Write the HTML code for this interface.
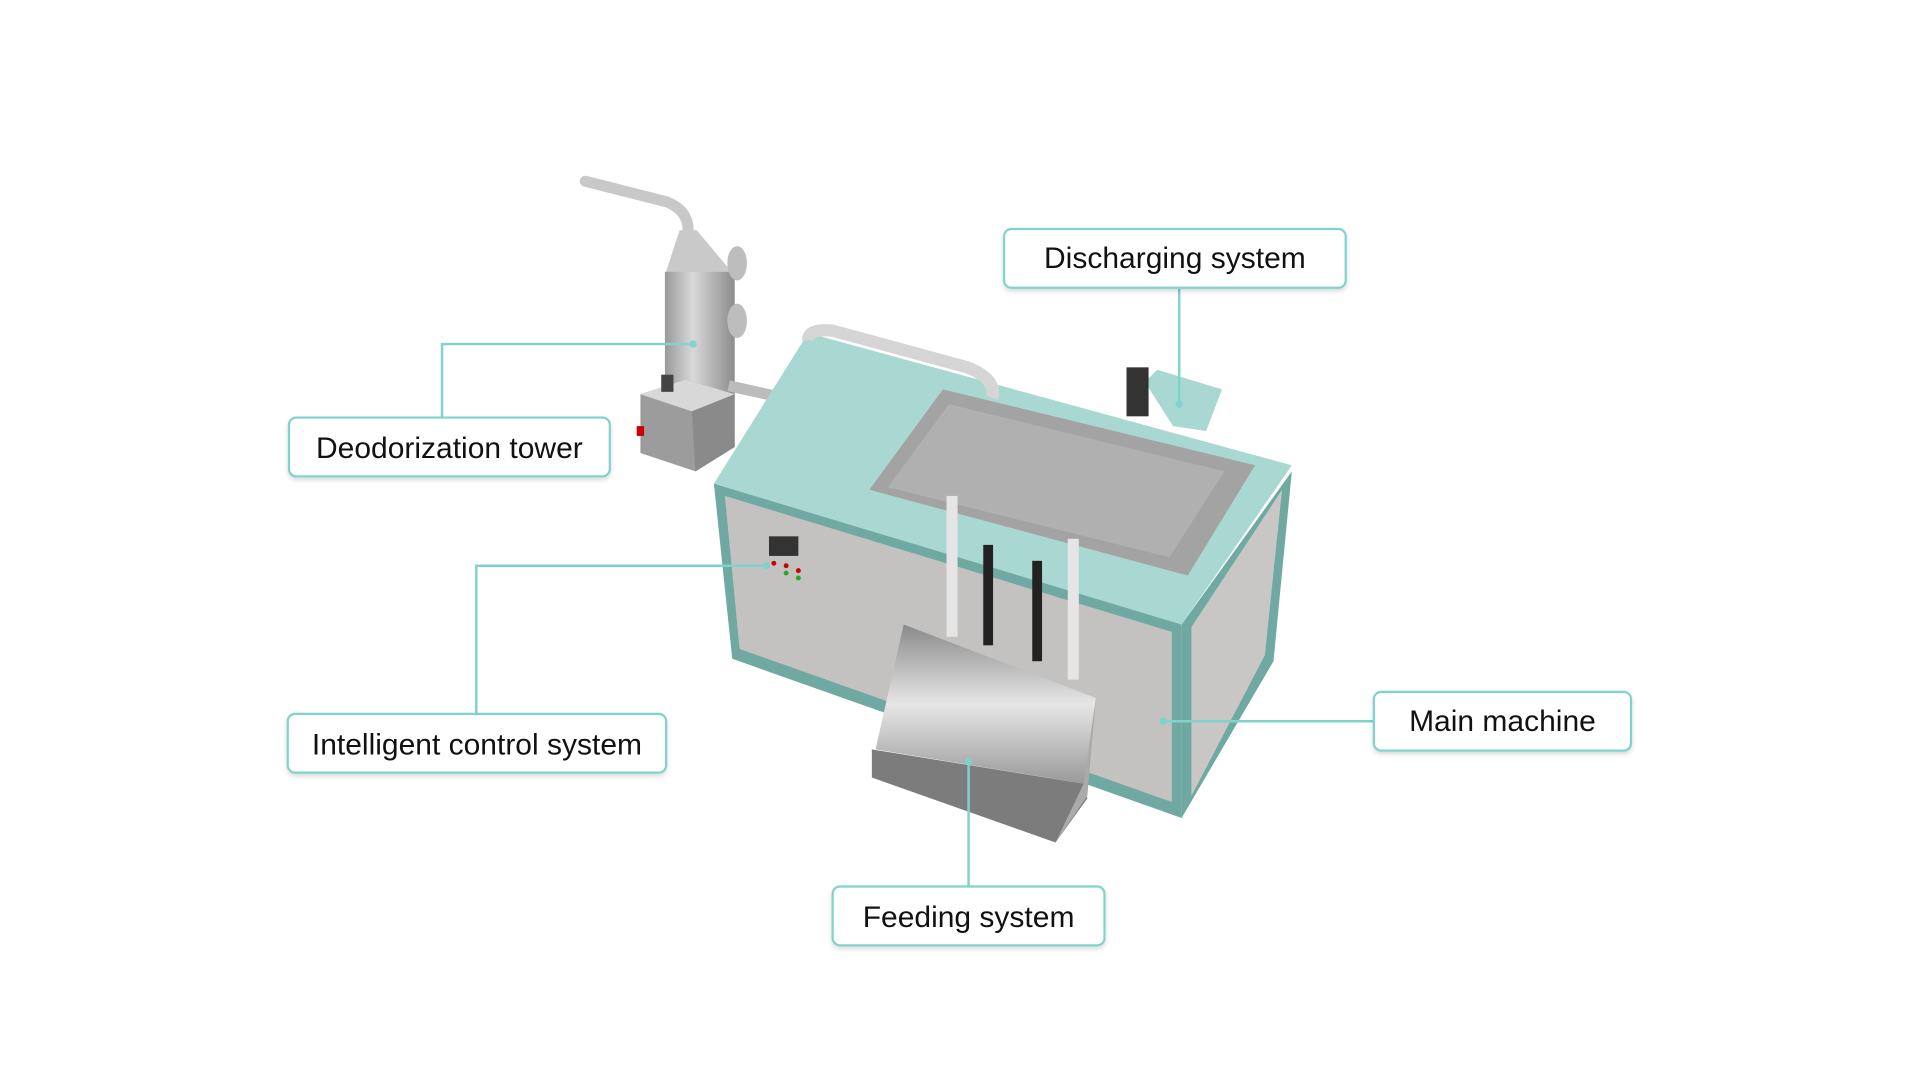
<!DOCTYPE html>
<html><head><meta charset="utf-8"><style>
html,body{margin:0;padding:0;background:#fff;width:1920px;height:1080px;overflow:hidden}
svg{display:block}
text{font-family:"Liberation Sans",Arial,sans-serif;font-size:24.5px;fill:#111}
</style></head><body>
<svg width="1920" height="1080" viewBox="0 0 1568 882" xmlns="http://www.w3.org/2000/svg">
<defs>
<linearGradient id="steel" x1="0" x2="1"><stop offset="0" stop-color="#9a9a9a"/><stop offset=".4" stop-color="#d8d8d8"/><stop offset="1" stop-color="#8c8c8c"/></linearGradient>
<linearGradient id="hop" x1="0" y1="0" x2="0" y2="1"><stop offset="0" stop-color="#8a8a8a"/><stop offset=".5" stop-color="#e6e6e6"/><stop offset="1" stop-color="#9a9a9a"/></linearGradient>
<filter id="sh" x="-10%" y="-10%" width="120%" height="140%"><feDropShadow dx="0" dy="2" stdDeviation="2" flood-color="#000" flood-opacity=".15"/></filter>
</defs>
<path d="M478,148 L545,165 Q562,172 562,188" stroke="#c8c8c8" stroke-width="9" fill="none" stroke-linecap="round"/>
<polygon points="555,188 569,188 600,225 543,225" fill="#c9c9c9"/>
<rect x="543" y="222" width="57" height="100" fill="url(#steel)"/>
<ellipse cx="602" cy="215" rx="8" ry="14" fill="#bdbdbd"/>
<ellipse cx="602" cy="262" rx="8" ry="14" fill="#bdbdbd"/>
<path d="M595,315 L640,325" stroke="#bbb" stroke-width="9"/>
<polygon points="523,322 560,310 600,322 600,365 568,385 523,370" fill="#9c9c9c"/>
<polygon points="523,322 560,310 600,322 565,336" fill="#d8d8d8"/>
<polygon points="565,336 600,322 600,365 568,385" fill="#8a8a8a"/>
<rect x="540" y="306" width="10" height="14" fill="#444"/>
<rect x="520" y="348" width="6" height="8" fill="#c00"/>
<polygon points="583,395 660,272 1055,380 965,510" fill="#a9d7d1"/>
<polygon points="583,395 965,510 965,668 598,538" fill="#6fa9a2"/>
<polygon points="592,405 957,516 957,655 604,530" fill="#c4c2c0"/>
<polygon points="965,510 1055,385 1040,540 965,668" fill="#6fa9a2"/>
<polygon points="973,512 1047,400 1033,535 973,650" fill="#c9c7c5"/>
<polygon points="710,400 770,318 1025,380 970,470" fill="#a3a3a3"/>
<polygon points="725,398 775,330 1000,385 955,455" fill="#b0b0b0"/>
<path d="M660,278 Q660,268 680,270 L790,300 Q815,310 810,325" stroke="#d5d5d5" stroke-width="10" fill="none"/>
<rect x="628" y="438" width="24" height="16" fill="#333"/>
<g fill="#c00"><circle cx="632" cy="460" r="2"/><circle cx="642" cy="462" r="2"/><circle cx="652" cy="466" r="2"/></g>
<g fill="#2a2"><circle cx="642" cy="468" r="2"/><circle cx="652" cy="472" r="2"/></g>
<rect x="803" y="445" width="8" height="82" fill="#222"/>
<rect x="843" y="458" width="8" height="82" fill="#222"/>
<rect x="773" y="405" width="9" height="115" fill="#e5e5e5"/>
<rect x="872" y="440" width="9" height="115" fill="#e5e5e5"/>
<polygon points="935,312 945,302 998,318 985,352 958,348" fill="#a9d7d1"/>
<rect x="920" y="300" width="18" height="40" fill="#333"/>
<polygon points="738,510 895,570 885,640 715,612" fill="url(#hop)"/>
<polygon points="712,612 885,640 888,652 862,688 712,635" fill="#7c7c7c"/>
<polygon points="885,640 895,570 888,650 862,688" fill="#aaa"/>
<g stroke="#7fd3cb" stroke-width="2" fill="none">
<path d="M963,236 V330"/>
<path d="M361,341 V281 H566"/>
<path d="M389,583 V462 H626"/>
<path d="M1122,589 H950"/>
<path d="M791,724 V622"/>
</g>
<g fill="#7fd3cb"><circle cx="963" cy="330" r="3"/><circle cx="566" cy="281" r="3"/><circle cx="626" cy="462" r="3"/><circle cx="950" cy="589" r="3"/><circle cx="791" cy="622" r="3"/></g>
<g fill="#fff" stroke="#7fd3cb" stroke-width="1.8" filter="url(#sh)">
<rect x="820" y="187" width="279" height="48" rx="6"/>
<rect x="236" y="341" width="262" height="48" rx="6"/>
<rect x="235" y="583" width="309" height="48" rx="6"/>
<rect x="1122" y="565" width="210" height="48" rx="6"/>
<rect x="680" y="724" width="222" height="48" rx="6"/>
</g>
<g text-anchor="middle">
<text x="959.5" y="219">Discharging system</text>
<text x="367" y="374">Deodorization tower</text>
<text x="389.5" y="616">Intelligent control system</text>
<text x="1227" y="597">Main machine</text>
<text x="791" y="757">Feeding system</text>
</g>
</svg>
</body></html>
